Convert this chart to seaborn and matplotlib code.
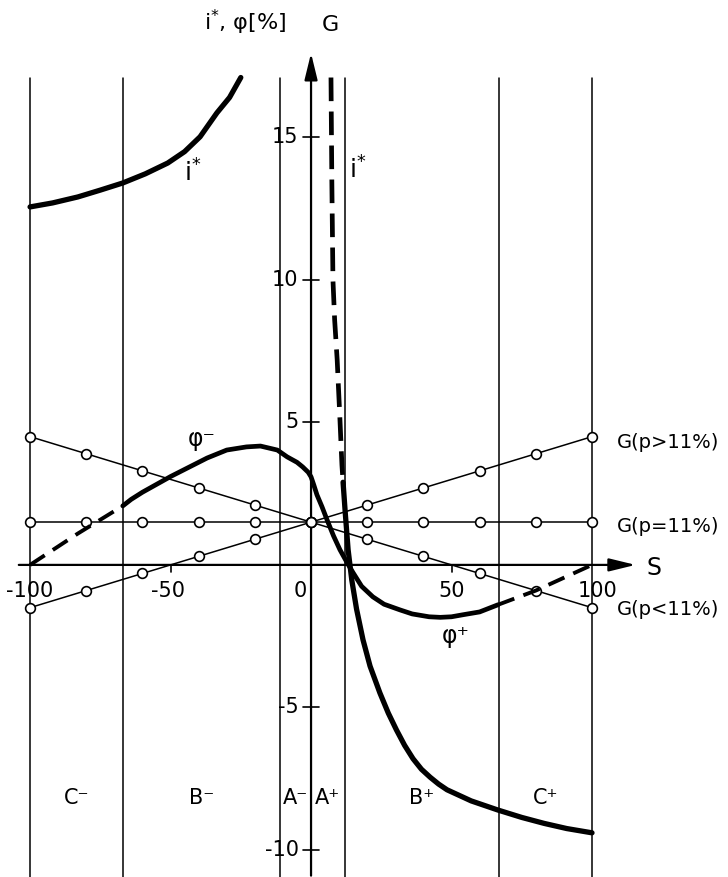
import matplotlib
matplotlib.use("Agg")
import matplotlib.pyplot as plt
import pandas as pd
import seaborn as sns

sns.set_style("white")
plt.rcParams['font.family'] = ['DejaVu Sans']
plt.rcParams['text.color'] = 'black'

# zone boundaries on the S axis (C-, B-, A-, A+, B+, C+)
zone_bounds = [-100, -67, -11, 12, 67, 100]
zone_labels = ["C⁻", "B⁻", "A⁻", "A⁺", "B⁺", "C⁺"]
zone_centres = [-83.5, -39, -5.5, 6, 39.5, 83.5]

# G lines, markers every 20 on S
g_s = [-100, -80, -60, -40, -20, 0, 20, 40, 60, 80, 100]
g_high = [-1.5, -0.9, -0.3, 0.3, 0.9, 1.5, 2.1, 2.7, 3.3, 3.9, 4.5]
g_equal = [1.5, 1.5, 1.5, 1.5, 1.5, 1.5, 1.5, 1.5, 1.5, 1.5, 1.5]
g_low = [4.5, 3.9, 3.3, 2.7, 2.1, 1.5, 0.9, 0.3, -0.3, -0.9, -1.5]
g_labels = ["G(p>11%)", "G(p=11%)", "G(p<11%)"]
g_label_y = [4.3, 1.33, -1.58]

# phi curve (phi- left of the G axis, phi+ right of it)
phi_dash_left_s = [-100, -83, -67]
phi_dash_left_v = [0.0, 1.1, 2.07]
phi_s = [-67, -64, -60, -56, -50, -44, -37, -30, -23, -18, -12, -8.5, -5, -3, -1, 0,
         1, 2.1, 3.9, 5.7, 8, 10.3, 13, 15, 18, 22, 26, 31.7, 36, 42, 46, 50, 54, 60, 66.5]
phi_v = [2.07, 2.3, 2.55, 2.77, 3.1, 3.4, 3.75, 4.03, 4.14, 4.17, 4.03, 3.79, 3.6, 3.44, 3.25, 3.09,
         2.8, 2.46, 2.04, 1.58, 1.02, 0.53, 0.05, -0.28, -0.75, -1.12, -1.38, -1.58, -1.72, -1.82, -1.84, -1.82,
         -1.75, -1.65, -1.40]
phi_dash_right_s = [66.5, 80, 100]
phi_dash_right_v = [-1.40, -0.9, 0.0]

# i* curves
istar_left_s = [-100, -92, -83, -75, -67, -59, -51, -45, -39.5, -33.5, -29, -25]
istar_left_v = [12.56, 12.7, 12.91, 13.15, 13.4, 13.72, 14.1, 14.5, 15.02, 15.86, 16.4, 17.1]
istar_dash_s = [7.1, 7.4, 7.8, 8.4, 9.3, 10.2, 11.0, 11.4]
istar_dash_v = [17.1, 13.5, 10.0, 8.6, 7.2, 5.3, 3.5, 2.9]
istar_right_s = [11.4, 12.2, 13.2, 14.5, 16.2, 18.5, 21, 24.5, 27.5, 30.4, 33.3, 36.3,
                 39.3, 42.4, 45.4, 48.4, 57, 66.5, 75, 83, 91, 100]
istar_right_v = [2.9, 1.8, 0.53, -0.53, -1.55, -2.63, -3.55, -4.49, -5.2, -5.79, -6.33, -6.8,
                 -7.17, -7.45, -7.69, -7.89, -8.28, -8.6, -8.86, -9.07, -9.25, -9.4]

y_ticks = [15, 10, 5, -5, -10]
x_tick_labels = ["-100", "-50", "0", "50", "100"]
x_tick_pos = [-100, -51, -4, 50, 102]

fig = plt.figure(figsize=(7.28, 8.77), dpi=100)
ax = fig.add_axes([0, 0, 1, 1])
ax.set_xlim(-110.7, 148.4)
ax.set_ylim(-10.95, 19.82)
ax.axis('off')

FS = 15
THICK = 3.4

# zone boundaries
for b in zone_bounds:
    ax.plot([b, b], [-11, 17.1], color='black', lw=1.1, zorder=1)

# axes with arrows
ax.annotate('', xy=(116.5, 0), xytext=(-105, 0),
            arrowprops=dict(arrowstyle='-|>,head_length=0.9,head_width=0.22',
                            lw=1.6, color='black', mutation_scale=18))
ax.annotate('', xy=(0, 18.05), xytext=(0, -11),
            arrowprops=dict(arrowstyle='-|>,head_length=0.9,head_width=0.22',
                            lw=1.6, color='black', mutation_scale=18))

# tick marks
for t in y_ticks:
    ax.plot([-3, 3], [t, t], color='black', lw=1.2)
    ax.text(-4.4, t, str(t), ha='right', va='center', fontsize=FS)
for t in [-50, 50]:
    ax.plot([t, t], [0, -0.25], color='black', lw=1.2)
for lab, p in zip(x_tick_labels, x_tick_pos):
    ax.text(p, -0.9, lab, ha='center', va='center', fontsize=FS)

# G lines
for vals in [g_high, g_equal, g_low]:
    df = pd.DataFrame({"S": g_s, "G": vals})
    sns.lineplot(data=df, x="S", y="G", ax=ax, color='black', lw=1.1,
                 estimator=None, sort=False, marker='o', markersize=7,
                 markerfacecolor='white', markeredgecolor='black',
                 markeredgewidth=1.2, zorder=4)

# phi
sns.lineplot(x=phi_s, y=phi_v, ax=ax, color='black', lw=THICK,
             estimator=None, sort=False, zorder=5)
for xs, ys in [(phi_dash_left_s, phi_dash_left_v), (phi_dash_right_s, phi_dash_right_v)]:
    sns.lineplot(x=xs, y=ys, ax=ax, color='black', lw=THICK - 0.6,
                 estimator=None, sort=False, zorder=5)
    ax.lines[-1].set_dashes([4.5, 2.5])

# i*
sns.lineplot(x=istar_left_s, y=istar_left_v, ax=ax, color='black', lw=THICK + 0.4,
             estimator=None, sort=False, zorder=5)
sns.lineplot(x=istar_right_s, y=istar_right_v, ax=ax, color='black', lw=THICK + 0.4,
             estimator=None, sort=False, zorder=5)
sns.lineplot(x=istar_dash_s, y=istar_dash_v, ax=ax, color='black', lw=THICK,
             estimator=None, sort=False, zorder=5)
ax.lines[-1].set_dashes([5, 2.2])

if ax.get_legend() is not None:
    ax.get_legend().remove()

# labels
ax.text(-23.5, 19.05, r"$\mathregular{i^{*}}$, φ[%]", ha='center', va='center', fontsize=FS + 1)
ax.text(6.8, 18.95, "G", ha='center', va='center', fontsize=FS + 1)
ax.text(-42, 13.75, r"$\mathregular{i^{*}}$", ha='center', va='center', fontsize=FS + 3)
ax.text(16.5, 13.85, r"$\mathregular{i^{*}}$", ha='center', va='center', fontsize=FS + 3)
ax.text(-39, 4.4, "φ⁻", ha='center', va='center', fontsize=FS + 2)
ax.text(51.5, -2.5, "φ⁺", ha='center', va='center', fontsize=FS + 2)

for lab, yv in zip(g_labels, g_label_y):
    ax.text(109.0, yv, lab, ha='left', va='center', fontsize=14)
ax.text(119.5, -0.1, "S", ha='left', va='center', fontsize=FS + 2)

for lab, c in zip(zone_labels, zone_centres):
    ax.text(c, -8.18, lab, ha='center', va='center', fontsize=FS)

fig.savefig("out.png", dpi=100)
